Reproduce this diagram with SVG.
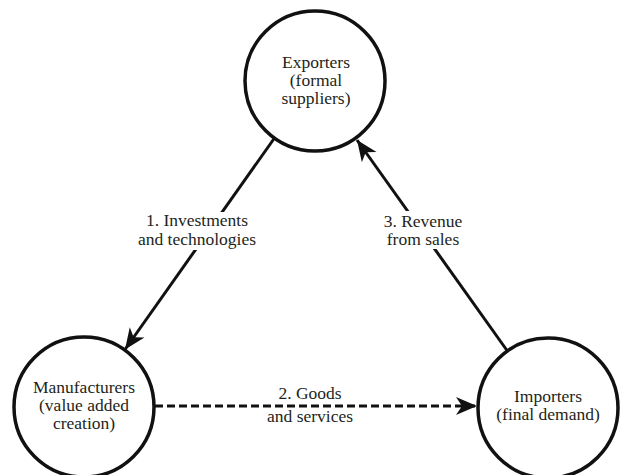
<svg xmlns="http://www.w3.org/2000/svg" width="620" height="475" viewBox="0 0 620 475">
  <style>
    .node { fill: #ffffff; stroke: #111111; stroke-width: 3.5; }
    .lbl { font-size: 17.5px; fill: #231f20; text-anchor: middle; }
    .edge { stroke: #111111; stroke-width: 3; fill: none; }
    .dashed { stroke-dasharray: 8 4; }
    .mask { fill: #ffffff; }
  </style>
  <defs>
    <marker id="arrow" markerUnits="userSpaceOnUse" markerWidth="24" markerHeight="20" viewBox="-22 -10 24 20" refX="0" refY="0" orient="auto">
      <path d="M0,0 L-21,-9 L-15,0 L-21,9 Z" fill="#111111"/>
    </marker>
  </defs>
  <rect width="620" height="475" fill="#ffffff"/>

  <!-- connectors -->
  <g id="connectors">
    <line id="edge-investments" class="edge" x1="274.5" y1="138" x2="125" y2="349.5" marker-end="url(#arrow)"/>
    <line id="edge-revenue" class="edge" x1="507.4" y1="351" x2="357" y2="140" marker-end="url(#arrow)"/>
    <line id="edge-goods" class="edge dashed" x1="155" y1="406" x2="477" y2="406" marker-end="url(#arrow)"/>
  </g>

  <g font-family="Liberation Serif, Times New Roman, DejaVu Serif, serif">
    <!-- edge labels -->
    <g id="label-investments">
      <rect class="mask" x="133" y="212" width="128" height="38"/>
      <text class="lbl" x="197" y="226">1. Investments</text>
      <text class="lbl" x="197" y="245">and technologies</text>
    </g>
    <g id="label-revenue">
      <rect class="mask" x="380" y="211" width="86" height="38"/>
      <text class="lbl" x="423" y="227">3. Revenue</text>
      <text class="lbl" x="423" y="245">from sales</text>
    </g>
    <g id="label-goods">
      <text class="lbl" x="310" y="399">2. Goods</text>
      <text class="lbl" x="310" y="422">and services</text>
    </g>

    <!-- nodes -->
    <g id="node-exporters">
      <circle class="node" cx="315" cy="81" r="70"/>
      <text class="lbl" x="316" y="68">Exporters</text>
      <text class="lbl" x="316" y="86">(formal</text>
      <text class="lbl" x="316" y="104">suppliers)</text>
    </g>
    <g id="node-manufacturers">
      <circle class="node" cx="84" cy="407" r="70"/>
      <text class="lbl" x="84" y="393">Manufacturers</text>
      <text class="lbl" x="84" y="411">(value added</text>
      <text class="lbl" x="84" y="429">creation)</text>
    </g>
    <g id="node-importers">
      <circle class="node" cx="548" cy="408" r="70"/>
      <text class="lbl" x="548" y="402">Importers</text>
      <text class="lbl" x="548" y="420">(final demand)</text>
    </g>
  </g>
</svg>
